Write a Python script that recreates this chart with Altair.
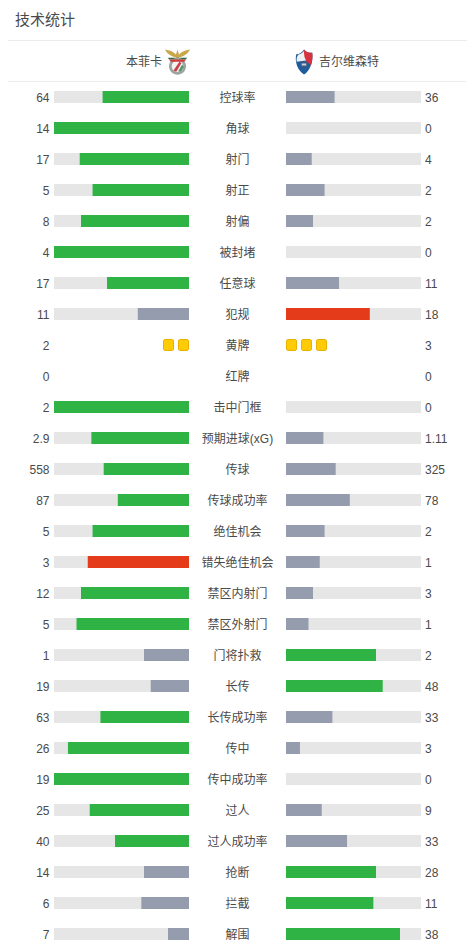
import altair as alt
import pandas as pd

stats = ["控球率", "角球", "射门", "射正", "射偏", "被封堵", "任意球", "犯规", "黄牌", "红牌",
         "击中门框", "预期进球(xG)", "传球", "传球成功率", "绝佳机会", "错失绝佳机会", "禁区内射门",
         "禁区外射门", "门将扑救", "长传", "长传成功率", "传中", "传中成功率", "过人", "过人成功率",
         "抢断", "拦截", "解围"]
home = [64, 14, 17, 5, 8, 4, 17, 11, 2, 0, 2, 2.9, 558, 87, 5, 3, 12, 5, 1, 19, 63, 26, 19, 25, 40, 14, 6, 7]
away = [36, 0, 4, 2, 2, 0, 11, 18, 3, 0, 0, 1.11, 325, 78, 2, 1, 3, 1, 2, 48, 33, 3, 0, 9, 33, 28, 11, 38]
home_labels = [str(v) for v in home]
away_labels = [str(v) for v in away]
card_rows = ["黄牌", "红牌"]
red_rows = ["犯规", "错失绝佳机会"]
title = "技术统计"
home_team = "本菲卡"
away_team = "吉尔维森特"

GREEN, GREY, RED, TRACK = "#2fb344", "#949cae", "#e43b1b", "#e6e6e6"
FONT = "Liberation Sans, Noto Sans CJK SC"
TXT = "#4a4a4a"

df = pd.DataFrame({"stat": stats, "home": home, "away": away,
                   "hl": home_labels, "al": away_labels})
df["total"] = df.home + df.away
df["hs"] = df.home / df.total.where(df.total > 0, 1)
df["as"] = df.away / df.total.where(df.total > 0, 1)
df["zero"] = 0
df["one"] = 1


def colour(me, other, stat):
    if me < other:
        return GREY
    return RED if stat in red_rows else GREEN


df["hc"] = [colour(h, a, s) for h, a, s in zip(home, away, stats)]
df["ac"] = [colour(a, h, s) for h, a, s in zip(home, away, stats)]
bars = df[~df.stat.isin(card_rows)]

Y = alt.Y("stat:N", axis=None, scale=alt.Scale(type="point", domain=stats, range=[89, 926], padding=0))
L_SCALE = alt.Scale(domain=[0, 1], range=[181, 46])
R_SCALE = alt.Scale(domain=[0, 1], range=[278, 413])
LC_SCALE = alt.Scale(domain=[0, 9], range=[175.5, 40.5])
RC_SCALE = alt.Scale(domain=[0, 9], range=[283.5, 418.5])


def bar(data, field, scale, colour_field=None):
    base = alt.Chart(data).mark_bar(size=12, orient="horizontal") if colour_field else \
        alt.Chart(data).mark_bar(size=12, orient="horizontal", color=TRACK)
    enc = dict(x=alt.X("zero:Q", scale=scale, axis=None), x2=f"{field}:Q", y=Y)
    if colour_field:
        enc["color"] = alt.Color(f"{colour_field}:N", scale=None, legend=None)
    return base.encode(**enc)


cards_l = pd.DataFrame([{"stat": s, "i": i} for s, n in zip(stats, home) if s in card_rows for i in range(n)])
cards_r = pd.DataFrame([{"stat": s, "i": i} for s, n in zip(stats, away) if s in card_rows for i in range(n)])


def cards(data, scale):
    return alt.Chart(data).mark_rect(width=10, height=11, cornerRadius=1.5, color="#ffcb05",
                                     stroke="#e9b100", strokeWidth=1).encode(
        x=alt.X("i:Q", scale=scale, axis=None), y=Y)


def text(data, field, px, align, size=12, color=TXT):
    return alt.Chart(data).mark_text(align=align, baseline="middle", font=FONT, fontSize=size, color=color,
                                     dy=1).encode(
        x=alt.value(px), y=Y, text=f"{field}:N")


def label(s, px, py, align, size=12, color=TXT):
    return alt.Chart(pd.DataFrame({"t": [s]})).mark_text(
        align=align, baseline="middle", font=FONT, fontSize=size, color=color).encode(
        x=alt.value(px), y=alt.value(py), text="t:N")


def rule(x1, x2, py):
    return alt.Chart(pd.DataFrame({"a": [0]})).mark_rule(color="#ececec", strokeWidth=1).encode(
        x=alt.value(x1), x2=alt.value(x2), y=alt.value(py))


def icon(path, fill, cx, cy, size=625):
    return alt.Chart(pd.DataFrame({"a": [0]})).mark_point(
        shape=path, size=size, filled=True, fill=fill, opacity=1, strokeWidth=0).encode(
        x=alt.value(cx), y=alt.value(cy))


def circle(cx, cy, r):
    return f"M{cx - r},{cy}A{r},{r} 0 1 1 {cx + r},{cy}A{r},{r} 0 1 1 {cx - r},{cy}Z"


benfica = [
    ("M-1,-1C-.6,-.95 -.3,-.8 -.12,-.6L0,-1 .12,-.6C.3,-.8 .6,-.95 1,-1C.85,-.65 .45,-.42 .12,-.38L0,-.25 -.12,-.38C-.45,-.42 -.85,-.65 -1,-1Z", "#c9a84c"),
    ("M-.78,-.34L.78,-.34 .66,-.2 -.66,-.2Z", "#2e6b47"),
    (circle(0, .34, .68), "#9da5a2"),
    (circle(0, .34, .46), "#f4f2ee"),
    ("M-.68,-.2L.68,-.2 .54,-.02 -.54,-.02Z", "#cf3a3a"),
    ("M-.32,.68L.15,-.02 .32,.08 -.1,.78Z", "#c8414a"),
    ("M.05,.75L.38,.2 .5,.4 .25,.75Z", "#4f9268"),
]
gil = [
    ("M-.62,-.62C-.36,-.62 -.16,-.75 0,-1C.2,-.78 .4,-.7 .66,-.75C.76,-.1 .5,.7 0,1C-.5,.7 -.76,0 -.62,-.62Z", "#1f5c9c"),
    ("M0,-1C.2,-.78 .4,-.7 .66,-.75C.7,-.35 .66,0 .56,.25L.08,-.15 -.04,-.45Z", "#d8323f"),
    ("M-.44,-.6C-.24,-.65 -.12,-.75 -.02,-.88L.04,-.4 .16,-.12 -.58,-.02C-.62,-.25 -.56,-.5 -.44,-.6Z", "#eef1f4"),
    ("M-.26,-.02L.28,-.02 .28,.45 -.26,.45Z", "#3d5a80"),
    ("M-.18,.12L.18,.12 .18,.28 -.18,.28Z", "#c9d2dc"),
]

layers = [
    rule(0, 459, 32.5),
    rule(0, 458, 73.5),
    label(title, 7, 12, "left", size=15),
    label(home_team, 154, 53.5, "right"),
    label(away_team, 311, 53.5, "left"),
]
layers += [icon(p, c, 169.5, 54) for p, c in benfica]
layers += [icon(p, c, 296, 54) for p, c in gil]
layers += [
    bar(bars, "one", L_SCALE),
    bar(bars, "one", R_SCALE),
    bar(bars, "hs", L_SCALE, "hc"),
    bar(bars, "as", R_SCALE, "ac"),
    cards(cards_l, LC_SCALE),
    cards(cards_r, RC_SCALE),
    text(df, "hl", 41.5, "right"),
    text(df, "stat", 229.5, "center"),
    text(df, "al", 417, "left"),
]

chart = alt.layer(*layers).resolve_scale(x="independent").properties(
    width=459, height=934, padding=0, autosize=alt.AutoSizeParams(type="none")
).configure_view(stroke=None)

chart.save("out.html", embed_options={"renderer": "svg", "actions": False})
